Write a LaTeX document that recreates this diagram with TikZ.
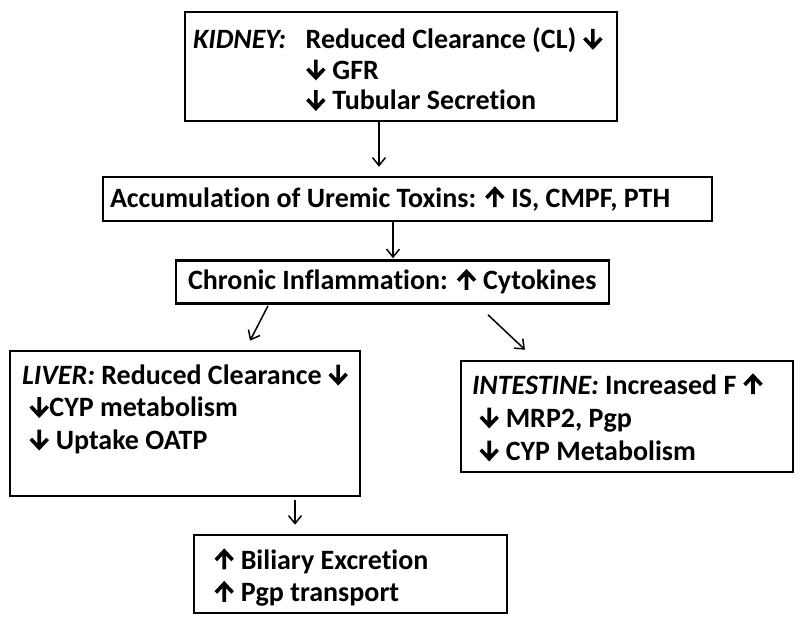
\documentclass[tikz,border=0pt]{standalone}
\usepackage{fontspec}
\setmainfont{Carlito}[Ligatures={NoCommon}]
\usetikzlibrary{arrows.meta}
\newcommand\dnar{\tikz[baseline=0pt]{\draw[line width=0.13em,line cap=butt,line join=miter,black] (0.35em,0.7em) -- (0.35em,0.08em) (0.05em,0.37em) -- (0.35em,0.05em) -- (0.65em,0.37em);}}
\newcommand\upar{\tikz[baseline=0pt]{\draw[line width=0.13em,line cap=butt,line join=miter,black] (0.35em,0em) -- (0.35em,0.62em) (0.05em,0.33em) -- (0.35em,0.65em) -- (0.65em,0.33em);}}
\newcommand\lefttext[2]{\makebox[#1][l]{#2}}
\newcommand\lowered[2]{\raisebox{-#1}[\height][\depth]{#2}}
\tikzset{
  box/.style={draw, line width=2.6pt, inner sep=0pt, font=\bfseries\fontsize{28}{32.5}\selectfont},
  conn/.style={line width=1.5pt, -{Straight Barb[length=8pt,width=13pt,line width=1.5pt]}}
}
\begin{document}
\begin{tikzpicture}[x=1pt,y=-1pt]
\useasboundingbox (0,0) rectangle (800,622);
\node[box, minimum width=432pt, minimum height=109pt] (kid) at (401,66.5)
  {\lefttext{416pt}{\lowered{6.5pt}{\fontsize{28}{30.5}\selectfont\begin{tabular}{@{}l@{\hspace{0.7em}}l@{}}
   \textit{KIDNEY:} & Reduced Clearance (CL) \dnar\\
   & \dnar\ GFR\\
   & \dnar\ Tubular Secretion
   \end{tabular}}}};
\node[box, minimum width=609pt, minimum height=44pt] (acc) at (407.5,199)
  {\lefttext{595pt}{Accumulation of Uremic Toxins: \upar\ IS, CMPF, PTH}};
\node[box, minimum width=433pt, minimum height=43pt] (chr) at (392.5,282)
  {\lefttext{409pt}{Chronic Inflammation: \upar\ Cytokines}};
\node[box, minimum width=350pt, minimum height=145pt] (liv) at (185,423.5)
  {\lefttext{326pt}{\lowered{3pt}{\begin{tabular}{@{}l@{}}
   \textit{LIVER:} Reduced Clearance \dnar\\
   \hspace*{0.25em}\dnar CYP metabolism\\
   \hspace*{0.25em}\dnar\ Uptake OATP\\
   \strut
   \end{tabular}}}};
\node[box, minimum width=332pt, minimum height=111pt] (int) at (627,416.5)
  {\lefttext{310pt}{\lowered{4pt}{\fontsize{28}{33}\selectfont\begin{tabular}{@{}l@{}}
   \textit{INTESTINE:} Increased F \upar\\
   \hspace*{0.25em}\dnar\ MRP2, Pgp\\
   \hspace*{0.25em}\dnar\ CYP Metabolism
   \end{tabular}}}};
\node[box, minimum width=313pt, minimum height=78pt] (bil) at (350.5,574)
  {\lefttext{273pt}{\lowered{5pt}{\begin{tabular}{@{}l@{}}
   \upar\ Biliary Excretion\\
   \upar\ Pgp transport
   \end{tabular}}}};
\draw[conn] ([xshift=-22pt]kid.south) -- ([xshift=-22pt,yshift=9pt]kid.south |- acc.north);
\draw[conn] ([xshift=-14.5pt]acc.south) -- ([xshift=-14.5pt,yshift=1pt]acc.south |- chr.north);
\draw[conn] ([xshift=-124.5pt,yshift=-1pt]chr.south) -- ([xshift=65pt,yshift=9pt]liv.north);
\draw[conn] ([xshift=95.5pt,yshift=-10pt]chr.south) -- ([xshift=-102pt,yshift=10pt]int.north);
\draw[conn] ([xshift=110pt,yshift=-3pt]liv.south) -- ([xshift=-55.5pt,yshift=9pt]bil.north);
\end{tikzpicture}
\end{document}
